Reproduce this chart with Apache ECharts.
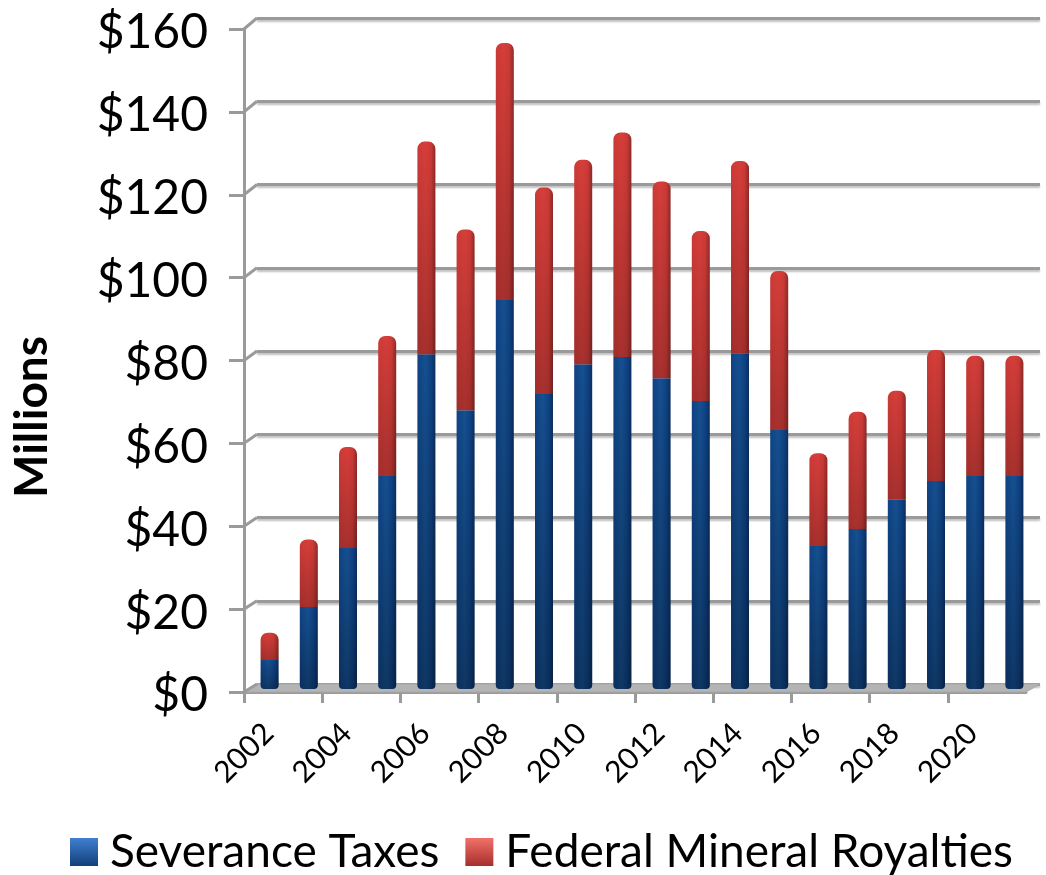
<!DOCTYPE html>
<html>
<head>
<meta charset="utf-8">
<title>Severance Taxes and Federal Mineral Royalties</title>
<script src="https://cdn.jsdelivr.net/npm/echarts@6/dist/echarts.min.js"></script>
<style>
  html, body { margin: 0; padding: 0; background: #fff; }
  #chart { width: 1046px; height: 875px; }
</style>
</head>
<body>
<div id="chart"></div>
<script>
// data, $ millions
const years = ['2002', '2003', '2004', '2005', '2006', '2007', '2008', '2009', '2010', '2011',
  '2012', '2013', '2014', '2015', '2016', '2017', '2018', '2019', '2020', '2021']
const severanceTaxes = [7, 19.8, 34, 51.4, 80.8, 67.3, 93.9, 71.2, 78.4, 80.1,
  75, 69.5, 81, 62.5, 34.5, 38.6, 45.8, 50.2, 51.4, 51.4]
const federalRoyalties = [6.6, 16.3, 24.4, 33.8, 51.3, 43.6, 62, 49.8, 49.3, 54.2,
  47.5, 41, 46.4, 38.4, 22.4, 28.3, 26.2, 31.6, 29, 29]
const yTicks = [0, 20, 40, 60, 80, 100, 120, 140, 160]

// fake 3D box: front axes, back wall and the bars sit in three offset grids
const front = { left: 244, top: 29, width: 782, height: 663 }
const back = { left: 257, top: 18, width: 783, height: 666 }
const bars = { left: 250, top: 26, width: 784, height: 663 }
const axisGray = '#9a9a9a'
const fontFamily = 'Lato, "Open Sans", sans-serif'

const sideGradient = (edge, mid, dark) => ({
  type: 'linear', x: 0, y: 0, x2: 1, y2: 0,
  colorStops: [
    { offset: 0, color: edge },
    { offset: 0.45, color: mid },
    { offset: 0.75, color: edge },
    { offset: 1, color: dark }
  ]
})
const shade = (alpha) => ({
  type: 'linear', x: 0, y: 0, x2: 0, y2: 1,
  colorStops: [
    { offset: 0, color: 'rgba(0,0,0,0)' },
    { offset: 1, color: `rgba(0,0,0,${alpha})` }
  ]
})
const legendIcon = (light, dark) => ({
  type: 'linear', x: 0, y: 0, x2: 0, y2: 1,
  colorStops: [
    { offset: 0, color: light },
    { offset: 1, color: dark }
  ]
})

const barBase = { type: 'bar', xAxisIndex: 2, yAxisIndex: 2, barWidth: 18, z: 3 }

// diagonal joints from the front ticks to the back wall
const tickY = (box, v) => box.top + box.height * (1 - v / 160)
const joints = yTicks.map(v => ({
  type: 'line',
  z: 1,
  shape: { x1: front.left, y1: tickY(front, v), x2: back.left, y2: tickY(back, v) },
  style: { stroke: axisGray, lineWidth: 3 }
}))

const chart = echarts.init(document.getElementById('chart'))
chart.setOption({
  animation: false,
  textStyle: { fontFamily },
  grid: [
    { ...front, containLabel: false },
    { ...back, containLabel: false },
    { ...bars, containLabel: false }
  ],
  xAxis: [
    {
      type: 'value', gridIndex: 0, min: 2002, max: 2022, interval: 2,
      splitLine: { show: false },
      axisLine: { show: true, onZero: false, lineStyle: { color: axisGray, width: 3 } },
      axisTick: { show: true, length: 11, lineStyle: { color: axisGray, width: 3 } },
      axisLabel: {
        show: true, rotate: 45, align: 'center', verticalAlign: 'middle', margin: 61,
        fontSize: 30, color: '#000', showMaxLabel: false,
        formatter: v => String(v)
      }
    },
    { type: 'value', gridIndex: 1, min: 0, max: 1, show: false },
    { type: 'category', gridIndex: 2, data: years, show: false }
  ],
  yAxis: [
    {
      type: 'value', gridIndex: 0, min: 0, max: 160, interval: 20,
      splitLine: { show: false },
      axisLine: { show: true, onZero: false, lineStyle: { color: axisGray, width: 3 } },
      axisTick: { show: true, length: 15, lineStyle: { color: axisGray, width: 3 } },
      axisLabel: {
        fontSize: 48, color: '#000', margin: 36,
        verticalAlign: 'top', lineHeight: 8,
        formatter: v => '$' + v
      }
    },
    {
      type: 'value', gridIndex: 1, min: 0, max: 160, interval: 20,
      axisLine: { show: false },
      axisTick: { show: false },
      axisLabel: { show: false },
      splitLine: {
        show: true,
        lineStyle: { color: axisGray, width: 3, shadowColor: 'rgba(0,0,0,0.25)', shadowBlur: 2, shadowOffsetY: 2 }
      }
    },
    { type: 'value', gridIndex: 2, min: 0, max: 160, show: false }
  ],
  legend: {
    left: 65,
    top: 824,
    itemWidth: 28,
    itemHeight: 28,
    itemGap: 26,
    icon: 'rect',
    textStyle: { fontSize: 46, color: '#000', fontFamily, padding: [0, 0, 0, 7] },
    data: [
      { name: 'Severance Taxes', itemStyle: { color: legendIcon('#3f7fd0', '#123f78') } },
      { name: 'Federal Mineral Royalties', itemStyle: { color: legendIcon('#f2706a', '#a52f2c') } }
    ]
  },
  graphic: [
    // floor of the box
    {
      type: 'polygon',
      z: 1,
      shape: {
        points: [
          [front.left, front.top + front.height],
          [back.left, back.top + back.height],
          [back.left + back.width, back.top + back.height],
          [front.left + front.width, front.top + front.height]
        ]
      },
      style: { fill: '#b4b4b4', stroke: '#a8a8a8', lineWidth: 1 }
    },
    ...joints,
    {
      type: 'text',
      z: 5,
      x: 32,
      y: 417,
      rotation: Math.PI / 2,
      style: {
        text: 'Millions',
        font: `bold 46px ${fontFamily}`,
        fill: '#000',
        align: 'center',
        verticalAlign: 'middle'
      }
    }
  ],
  series: [
    {
      ...barBase,
      name: 'Severance Taxes',
      stack: 'main',
      barGap: '-100%',
      data: severanceTaxes,
      itemStyle: { color: sideGradient('#0f4285', '#15508f', '#0a2f5f'), borderRadius: [0, 0, 4, 4] }
    },
    {
      ...barBase,
      name: 'Federal Mineral Royalties',
      stack: 'main',
      data: federalRoyalties,
      itemStyle: { color: sideGradient('#cc3a36', '#d63e3a', '#8e2a28'), borderRadius: [7, 7, 0, 0] }
    },
    // darkening toward the bottom of each segment
    {
      ...barBase,
      name: 'shade severance',
      stack: 'shade',
      z: 4,
      silent: true,
      data: severanceTaxes,
      itemStyle: { color: shade(0.3), borderRadius: [0, 0, 4, 4] }
    },
    {
      ...barBase,
      name: 'shade royalties',
      stack: 'shade',
      z: 4,
      silent: true,
      data: federalRoyalties,
      itemStyle: { color: shade(0.22), borderRadius: [7, 7, 0, 0] }
    }
  ]
})
</script>
</body>
</html>
